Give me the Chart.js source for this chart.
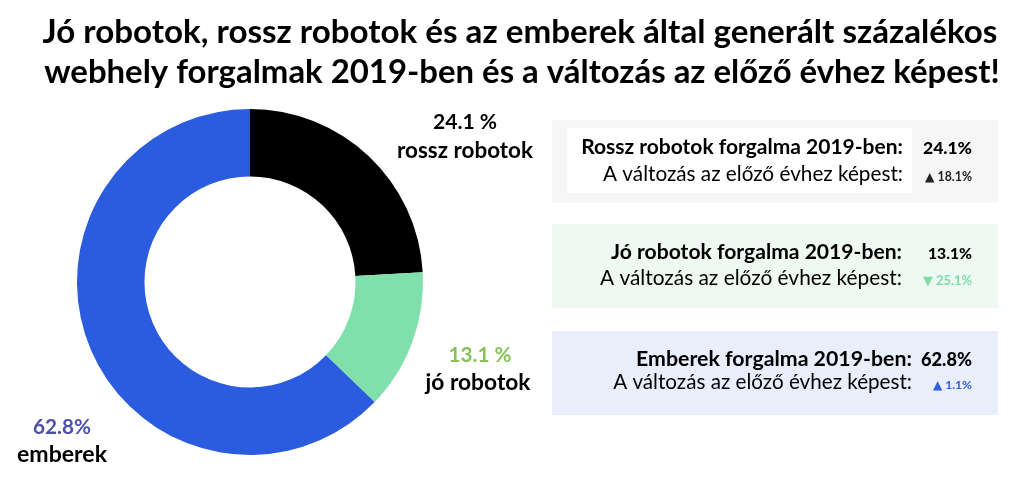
<!DOCTYPE html>
<html>
<head>
<meta charset="utf-8">
<script src="https://cdn.jsdelivr.net/npm/chart.js@4.4.1/dist/chart.umd.min.js"></script>
<style>
html,body{margin:0;padding:0;background:#fff;}
#wrap{position:relative;width:1024px;height:481px;}
</style>
</head>
<body>
<div id="wrap"><canvas id="c" width="1024" height="481"></canvas></div>
<script>
// ---- data ----
const categories = ['rossz robotok', 'jó robotok', 'emberek'];
const shares = [24.1, 13.1, 62.8];
const shareLabels = ['24.1 %', '13.1 %', '62.8%'];
const changes = [18.1, -25.1, 1.1];
const boxLabels = ['Rossz robotok forgalma 2019-ben:', 'Jó robotok forgalma 2019-ben:', 'Emberek forgalma 2019-ben:'];
const changeLabel = 'A változás az előző évhez képest:';
const titleLines = ['Jó robotok, rossz robotok és az emberek által generált százalékos',
                    'webhely forgalmak 2019-ben és a változás az előző évhez képest!'];

// ---- styles ----
const sliceColors = ['#000000', '#80e0ac', '#2b5ce0'];
const labelColors = ['#000000', '#86c35a', '#4b50a8'];
const changeColors = ['#222222', '#7fdca8', '#3060e0'];
const boxColors = ['#f6f6f6', '#eef9f2', '#e9eefb'];
const FAM = 'Lato, "DejaVu Sans", sans-serif';

function drawFit(ctx, text, weight, width, x, y, align, color) {
  ctx.font = weight + ' 100px ' + FAM;
  const w = ctx.measureText(text).width;
  const size = 100 * width / w;
  ctx.font = weight + ' ' + size.toFixed(2) + 'px ' + FAM;
  ctx.textAlign = align;
  ctx.textBaseline = 'alphabetic';
  ctx.fillStyle = color;
  ctx.fillText(text, x, y);
}
function fmtPct(v) { return v.toFixed(1) + '%'; }
function fmtChange(v) { return (v >= 0 ? '▲ ' : '▼ ') + Math.abs(v).toFixed(1) + '%'; }

// layout (positions only)
const boxes = [
  {y0: 120, y1: 203, l1: 154, l2: 181, w1: 322, w2: 300, r: 903, vw: 49, cw: 47},
  {y0: 224, y1: 308, l1: 259, l2: 285, w1: 291, w2: 302, r: 902, vw: 44, cw: 49},
  {y0: 331, y1: 415, l1: 366, l2: 389, w1: 276, w2: 299, r: 912, vw: 51, cw: 39}
];
const sliceLabelPos = [
  {x1: 465, x2: 465, y1: 129, y2: 158, w1: 64, w2: 136},
  {x1: 480, x2: 478, y1: 362, y2: 390, w1: 63, w2: 105},
  {x1: 62,  x2: 62,  y1: 434, y2: 462, w1: 58, w2: 90}
];

const overlay = {
  id: 'overlay',
  beforeDraw(chart) {
    const ctx = chart.ctx;
    ctx.save();
    ctx.fillStyle = '#ffffff';
    ctx.fillRect(0, 0, chart.width, chart.height);
    boxes.forEach((b, i) => {
      ctx.fillStyle = boxColors[i];
      ctx.fillRect(552, b.y0, 446, b.y1 - b.y0);
    });
    ctx.fillStyle = '#ffffff';
    ctx.fillRect(567, 128, 345, 65);
    ctx.restore();
  },
  afterDraw(chart) {
    const ctx = chart.ctx;
    ctx.save();
    drawFit(ctx, titleLines[0], 'bold', 955, 520, 43, 'center', '#000');
    drawFit(ctx, titleLines[1], 'bold', 956, 522, 83, 'center', '#000');
    boxes.forEach((b, i) => {
      drawFit(ctx, boxLabels[i], 'bold', b.w1, b.r, b.l1, 'right', '#000');
      drawFit(ctx, changeLabel, 'normal', b.w2, b.r, b.l2, 'right', '#000');
      drawFit(ctx, fmtPct(shares[i]), '900', b.vw, 972, b.l1, 'right', '#000');
      drawFit(ctx, fmtChange(changes[i]), 'bold', b.cw, 972, b.l2, 'right', changeColors[i]);
    });
    sliceLabelPos.forEach((p, i) => {
      drawFit(ctx, shareLabels[i], 'bold', p.w1, p.x1, p.y1, 'center', labelColors[i]);
      drawFit(ctx, categories[i], 'bold', p.w2, p.x2, p.y2, 'center', '#000');
    });
    ctx.restore();
  }
};

function build() {
  new Chart(document.getElementById('c'), {
    type: 'doughnut',
    data: {
      labels: categories,
      datasets: [{
        data: shares,
        backgroundColor: sliceColors,
        borderWidth: 0
      }]
    },
    options: {
      responsive: false,
      animation: false,
      cutout: '61%',
      layout: {padding: {left: 77, right: 601, top: 109, bottom: 26}},
      plugins: {legend: {display: false}, tooltip: {enabled: false}}
    },
    plugins: [overlay]
  });
}
Promise.all([
  document.fonts.load('bold 20px Lato'),
  document.fonts.load('900 20px Lato'),
  document.fonts.load('20px Lato')
]).then(build, build);
</script>
</body>
</html>
